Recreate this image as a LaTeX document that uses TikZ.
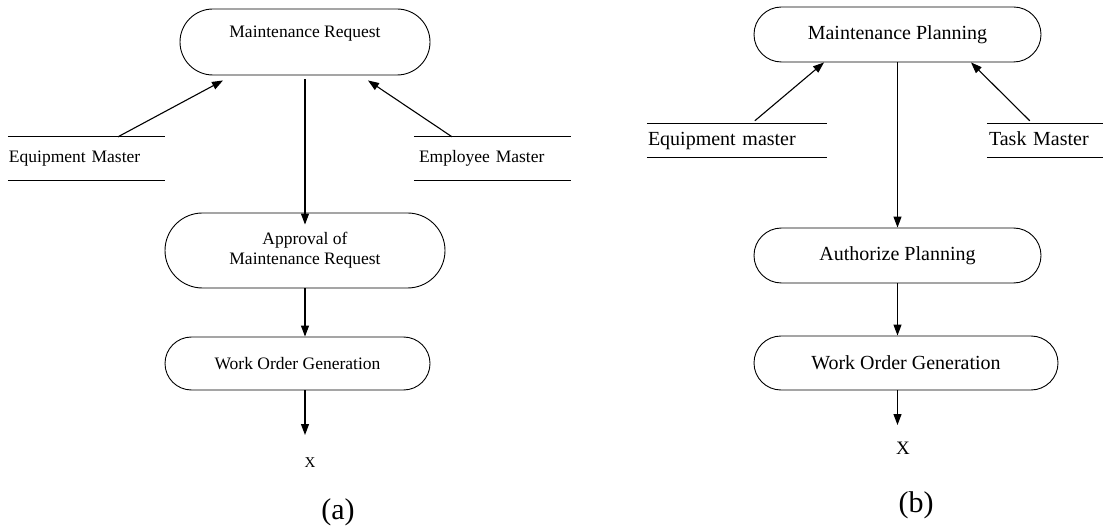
\documentclass[tikz,border=0pt]{standalone}
\usepackage{fontspec}
\setmainfont{Liberation Serif}
\usetikzlibrary{arrows.meta,shapes.misc}
\newcommand\fsa{\fontsize{17.5}{20}\selectfont}
\newcommand\fsb{\fontsize{20}{23}\selectfont}
\newcommand\fsxa{\fontsize{15}{18}\selectfont}
\newcommand\fsxb{\fontsize{19}{22}\selectfont}
\newcommand\fscap{\fontsize{30}{34}\selectfont}
\begin{document}
\begin{tikzpicture}[x=1pt,y=-1pt,
  term/.style={rounded rectangle, draw, line width=0.9pt, inner sep=0pt, align=center},
  store/.style={inner ysep=0pt, align=left},
  storea/.style={store, font=\fsa, minimum height=43pt, text height=12.5pt, text depth=4pt},
  storeb/.style={store, font=\fsb, minimum height=33pt, text height=14pt, text depth=4.5pt},
  storeline/.style={line width=1.1pt},
  arr/.style={line width=1.1pt, -{Triangle[length=11pt,width=8pt]}}]
\useasboundingbox (0,0) rectangle (1103,529);

% ---------- (a) maintenance request flow ----------
\node[term, minimum width=250pt, minimum height=66pt,
      label={[font=\fsa, yshift=8pt]center:Maintenance Request}] (mr) at (305,42) {};
\node[term, font=\fsa, minimum width=280pt, minimum height=75pt] (apr) at (305,250.5)
  {Approval of\\Maintenance Request};
\node[term, font=\fsa, minimum width=265pt, minimum height=53pt] (woga) at (297.5,363.5)
  {Work Order Generation};

\node[storea, inner xsep=1pt, text width=155pt] (eqa) at (86.5,158.5) {Equipment Master};
\node[storea, inner xsep=5pt, text width=147pt] (emp) at (492.5,158.5) {Employee Master};
\draw[storeline] (eqa.north west) -- (eqa.north east) (eqa.south west) -- (eqa.south east);
\draw[storeline] (emp.north west) -- (emp.north east) (emp.south west) -- (emp.south east);

\node[font=\fsxa] (xa) at (310,463) {X};
\coordinate (ta) at (305,435);
\node[font=\fscap] (capa) at (338,512) {(a)};

\draw[arr] ([xshift=31.5pt]eqa.north) -- ([xshift=-82pt,yshift=-5pt]mr.south);
\draw[arr] ([xshift=-40.5pt]emp.north) -- ([xshift=63pt,yshift=-5pt]mr.south);
\draw[arr] ([yshift=-4pt]mr.south) -- ([yshift=-12pt]apr.north);
\draw[arr] (apr.south) -- (apr.south |- woga.north);
\draw[arr] (woga.south -| apr.south) -- (ta);

% ---------- (b) maintenance planning flow ----------
\node[term, font=\fsb, minimum width=287pt, minimum height=55pt] (mp) at (897.5,34.5)
  {Maintenance Planning};
\node[term, font=\fsb, minimum width=287pt, minimum height=55pt] (auth) at (897.5,255.5)
  {Authorize Planning};
\node[term, font=\fsb, minimum width=304pt, minimum height=54pt] (wogb) at (906,363)
  {Work Order Generation};

\node[storeb, inner xsep=1pt, text width=178pt] (eqb) at (737,140.5) {Equipment master};
\node[storeb, inner xsep=2pt, text width=112pt] (tm) at (1045,140.5) {Task Master};
\draw[storeline] (eqb.north west) -- (eqb.north east) (eqb.south west) -- (eqb.south east);
\draw[storeline] (tm.north west) -- (tm.north east) (tm.south west) -- (tm.south east);

\node[font=\fsxb] (xb) at (903,448) {X};
\coordinate (tb) at (897.5,425);
\node[font=\fscap] (capb) at (916,505) {(b)};

\draw[arr] ([xshift=108pt,yshift=3pt]eqb.north west) -- ([xshift=-73.5pt]mp.south);
\draw[arr] ([xshift=43pt,yshift=3pt]tm.north west) -- ([xshift=73.5pt]mp.south);
\draw[arr] (mp.south) -- (auth.north);
\draw[arr] (auth.south) -- (auth.south |- wogb.north);
\draw[arr] (wogb.south -| auth.south) -- (tb);
\end{tikzpicture}
\end{document}
